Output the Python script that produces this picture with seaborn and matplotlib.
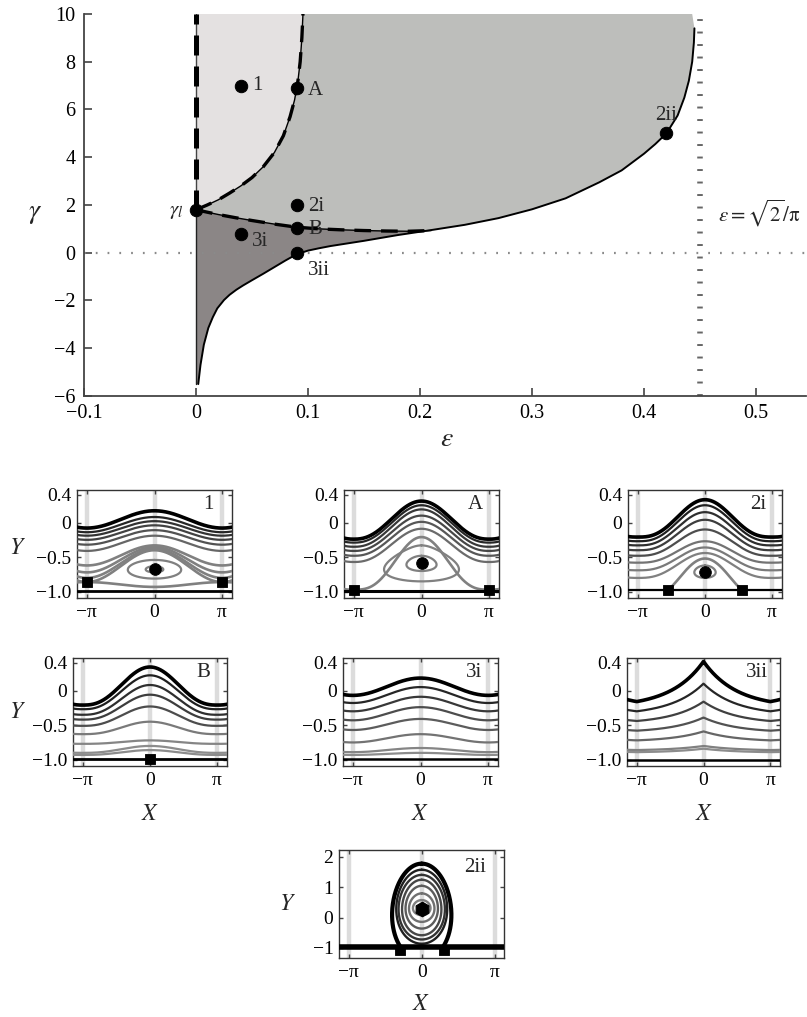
import numpy as np
import pandas as pd
import matplotlib
matplotlib.use("Agg")
import matplotlib.pyplot as plt
import seaborn as sns

sns.set_style("ticks")
plt.rcParams['font.family'] = ['Liberation Serif', 'DejaVu Serif']
plt.rcParams['mathtext.fontset'] = 'stix'

# ---------------- main phase diagram data ----------------
eps_A = [0.0, 0.005, 0.01, 0.02, 0.03, 0.04, 0.05, 0.06, 0.07, 0.078, 0.084, 0.088,
         0.091, 0.093, 0.0945, 0.0955]
gam_A = [1.8, 1.9, 2.0, 2.22, 2.5, 2.8, 3.15, 3.6, 4.2, 4.9, 5.7, 6.4,
         7.2, 8.0, 9.0, 10.0]
eps_B = [0.0, 0.01, 0.02, 0.035, 0.05, 0.07, 0.09, 0.11, 0.13, 0.15, 0.17, 0.19, 0.21]
gam_B = [1.8, 1.7, 1.6, 1.47, 1.35, 1.2, 1.07, 1.0, 0.96, 0.93, 0.91, 0.9, 0.93]
eps_low = [0.002, 0.004, 0.007, 0.011, 0.015, 0.019, 0.025, 0.03, 0.036, 0.042, 0.05,
           0.06, 0.07, 0.08, 0.09, 0.10, 0.11, 0.12, 0.135, 0.15, 0.18, 0.21, 0.24,
           0.27, 0.30, 0.33, 0.36, 0.38, 0.40, 0.41, 0.42, 0.43, 0.436, 0.440, 0.443,
           0.4445, 0.445]
gam_low = [-5.5, -4.7, -3.85, -3.15, -2.7, -2.33, -1.98, -1.76, -1.55, -1.37, -1.15,
           -0.88, -0.6, -0.32, -0.06, 0.09, 0.19, 0.28, 0.39, 0.5, 0.74, 0.95, 1.17,
           1.45, 1.82, 2.28, 2.95, 3.45, 4.15, 4.55, 5.0, 5.75, 6.5, 7.2, 8.0,
           8.8, 9.4]
pts_eps = [0.04, 0.09, 0.0, 0.09, 0.09, 0.04, 0.09, 0.42]
pts_gam = [7.0, 6.9, 1.8, 2.0, 1.05, 0.8, 0.0, 5.0]
pts_lab = ['1', 'A', r'$\gamma_l$', '2i', 'B', '3i', '3ii', '2ii']
eps_crit = np.sqrt(2) / np.pi
x_ticks = [-0.1, 0.0, 0.1, 0.2, 0.3, 0.4, 0.5]
x_ticklabels = ['\u22120.1', '0', '0.1', '0.2', '0.3', '0.4', '0.5']
y_ticks = [-6, -4, -2, 0, 2, 4, 6, 8, 10]
y_ticklabels = ['\u22126', '\u22124', '\u22122', '0', '2', '4', '6', '8', '10']

# ---------------- streamline panels data (Y at X=0, Y at X=+-pi) ----------------
p1_crest = [0.17, 0.08, 0.02, -0.04, -0.11, -0.19]
p1_trough = [-0.08, -0.14, -0.19, -0.25, -0.32, -0.41]
p1_sep_crest = [-0.33, -0.355, -0.38, -0.40, -0.93]
p1_sep_trough = [-0.62, -0.72, -0.80, -0.86, -0.86]
p1_orb_c, p1_orb_h, p1_orb_w = [-0.675, -0.675], [0.135, 0.045], [1.24, 0.41]

pA_crest = [0.31, 0.25, 0.19, 0.10, 0.01, -0.09]
pA_trough = [-0.24, -0.29, -0.35, -0.41, -0.48, -0.57]
pA_sep_crest, pA_sep_trough = [-0.21], [-0.97]
pA_orb_c, pA_orb_h, pA_orb_w = [-0.59, -0.59], [0.26, 0.11], [1.74, 0.70]

p2i_crest = [0.33, 0.25, 0.15, 0.04, -0.10, -0.27, -0.36, -0.44]
p2i_trough = [-0.21, -0.27, -0.33, -0.40, -0.48, -0.58, -0.69, -0.80]
p2i_arch_top, p2i_arch_foot_x, p2i_arch_foot_y = -0.52, 1.75, -0.97
p2i_orb_c, p2i_orb_h, p2i_orb_w = [-0.71], [0.09], [0.5]

pB_crest = [0.34, 0.22, 0.08, -0.06, -0.23, -0.45, -0.72, -0.80, -0.86]
pB_trough = [-0.21, -0.27, -0.35, -0.42, -0.51, -0.63, -0.77, -0.90, -0.93]

p3i_crest = [0.18, 0.05, -0.09, -0.24, -0.41, -0.63, -0.83, -0.90]
p3i_trough = [-0.07, -0.18, -0.30, -0.43, -0.57, -0.75, -0.89, -0.93]

p3ii_crest = [0.42, 0.10, -0.16, -0.39, -0.59, -0.80, -0.84]
p3ii_trough = [-0.16, -0.30, -0.44, -0.58, -0.72, -0.86, -0.89]

p2ii_ring_top = [1.78, 1.58, 1.41, 1.25, 1.05, 0.80, 0.58]
p2ii_ring_bot = [-1.40, -0.86, -0.72, -0.58, -0.36, -0.14, 0.08]
p2ii_ring_w = [1.28, 1.10, 1.00, 0.85, 0.70, 0.55, 0.38]

# ---------------- figure ----------------
W, H = 807, 1017
fig = plt.figure(figsize=(W / 100, H / 100), dpi=100)


def frac(x0, y0, x1, y1):
    return [x0 / W, 1 - y1 / H, (x1 - x0) / W, (y1 - y0) / H]


ax = fig.add_axes(frac(84, 14, 806, 396))
ax.set_xlim(-0.1, 0.5446)
ax.set_ylim(-6, 10)

light, mid, dark = '#e4e1e1', '#bdbebb', '#8b8686'
eA, gA = np.array(eps_A), np.array(gam_A)
eB, gB = np.array(eps_B), np.array(gam_B)
eL, gL = np.array(eps_low), np.array(gam_low)
left = eL <= 0.21
right = eL >= 0.21
ax.fill(np.r_[eA, 0.0], np.r_[gA, 10.0], color=light, lw=0, zorder=1)
ax.fill(np.r_[eA, 0.443, eL[right][::-1], eB[::-1]],
        np.r_[gA, 10.0, gL[right][::-1], gB[::-1]], color=mid, lw=0, zorder=1)
ax.fill(np.r_[eB, eL[left][::-1], 0.0], np.r_[gB, gL[left][::-1], -5.5],
        color=dark, lw=0, zorder=1)

ax.axhline(0, color='#8a8a8a', lw=1.6, ls=(0, (0.8, 4.5)), zorder=2)
ax.axvline(eps_crit, color='#666666', lw=4.0, ls=(0, (0.35, 1.9)), zorder=2,
           solid_capstyle='butt', dash_capstyle='butt')

df_low = pd.DataFrame({'eps': eps_low, 'gam': gam_low})
sns.lineplot(data=df_low, x='eps', y='gam', sort=False, estimator=None,
             color='black', lw=1.4, ax=ax, zorder=3)
for e, g in ((eps_A, gam_A), (eps_B, gam_B)):
    ax.plot(e, g, color='black', lw=1.0, zorder=3)
    ax.plot(e, g, color='black', lw=2.4, ls=(0, (5, 3)), zorder=3)
ax.plot([0, 0], [-5.5, 1.8], color='#222222', lw=1.0, zorder=3)
ax.plot([0, 0], [1.8, 10], color='#444444', lw=1.0, zorder=3)
ax.plot([0, 0], [1.8, 10], color='black', lw=3.6, ls=(0, (4, 2.2)), zorder=3)

df_pts = pd.DataFrame({'eps': pts_eps, 'gam': pts_gam})
sns.scatterplot(data=df_pts, x='eps', y='gam', color='black', s=80,
                edgecolor='black', ax=ax, zorder=5, legend=False)

lab_style = {
    '1': ((8, 0), 'left', 'center'),
    'A': ((8, -1.5), 'left', 'center'),
    '2i': ((8, -1), 'left', 'center'),
    'B': ((8, -1), 'left', 'center'),
    '3i': ((8, -6), 'left', 'center'),
    '3ii': ((8, -13), 'left', 'center'),
    r'$\gamma_l$': ((-9, -1.5), 'right', 'center'),
    '2ii': ((0, 6), 'center', 'bottom'),
}
for e, g, t in zip(pts_eps, pts_gam, pts_lab):
    off, ha, va = lab_style[t]
    ax.annotate(t, (e, g), xytext=off, textcoords='offset points', ha=ha, va=va,
                fontsize=15, zorder=6)

ax.text(0.466, 1.63, r'$\varepsilon = \sqrt{2}/\mathrm{\pi}$', fontsize=15, va='center')

ax.set_xticks(x_ticks)
ax.set_xticklabels(x_ticklabels)
ax.set_yticks(y_ticks)
ax.set_yticklabels(y_ticklabels)
ax.tick_params(direction='in', length=6, width=1.1, labelsize=14.5, pad=6,
               colors='#333333', labelcolor='black')
for s in ('top', 'right'):
    ax.spines[s].set_visible(False)
for s in ('left', 'bottom'):
    ax.spines[s].set_linewidth(1.3)
    ax.spines[s].set_color('#444444')
ax.set_xlabel('')
ax.set_ylabel('')
fig.text(35 / W, 1 - 213 / H, r'$\gamma$', fontsize=20, ha='center', va='center')
fig.text(447 / W, 1 - 440 / H, r'$\varepsilon$', fontsize=20, ha='center', va='center')

# ---------------- small panels ----------------
Xg = np.linspace(-3.8, 3.8, 800)


def wrap(X):
    return (X + np.pi) % (2 * np.pi) - np.pi


def profile(X, kind, p):
    Xw = wrap(X)
    if kind == 'cusp':
        return (np.exp(-p * np.abs(Xw)) - np.exp(-p * np.pi)) / (1 - np.exp(-p * np.pi))
    return ((1 + np.cos(Xw)) / 2) ** p


def waves(a, crest, trough, kind, p, grays, lw=1.6, first_lw=2.6):
    for i, (c, t) in enumerate(zip(crest, trough)):
        Y = t + (c - t) * profile(Xg, kind, p)
        a.plot(Xg, Y, color=str(grays[i]), lw=first_lw if i == 0 else lw, zorder=3)


def orbit(a, c, h, w, k, color, lw=1.6):
    th = np.linspace(0, 2 * np.pi, 400)
    Y = c + h * np.cos(th)
    X = np.sin(th) * (1 - k * (1 + np.cos(th)) / 2)
    X = X / np.abs(X).max() * w
    a.plot(X, Y, color=color, lw=lw, zorder=3)


def panel(rect, label, ylim=(-1.09, 0.47), yt=(0.4, 0, -0.5, -1.0),
          ytl=('0.4', '0', '\u22120.5', '\u22121.0'), xlim=(-3.6, 3.6), lab_xy=(2.5, 0.26)):
    a = fig.add_axes(rect)
    a.set_xlim(*xlim)
    a.set_ylim(*ylim)
    for xv in (-np.pi, 0, np.pi):
        a.axvline(xv, color='#dcdcdc', lw=3.2, zorder=0)
    a.set_xticks([-np.pi, 0, np.pi])
    a.set_xticklabels(['\u2212\u03c0', '0', '\u03c0'])
    a.set_yticks(list(yt))
    a.set_yticklabels(list(ytl))
    a.tick_params(direction='in', top=True, right=True, length=3, width=1.0,
                  labelsize=14, pad=4, colors='#444444', labelcolor='black')
    for s in a.spines.values():
        s.set_linewidth(1.0)
        s.set_color('#333333')
    a.text(lab_xy[0], lab_xy[1], label, fontsize=15, ha='center', va='center', zorder=6)
    return a


def marks(a, xs, ys, marker, s):
    sns.scatterplot(x=xs, y=ys, marker=marker, color='black', s=s, edgecolor='black',
                    ax=a, zorder=5, legend=False)


GRAY = '0.5'

# Panel 1
a1 = panel(frac(77, 490, 232, 598), '1')
waves(a1, p1_crest, p1_trough, 'cos', 1.0, grays=[0.0, 0.15, 0.2, 0.26, 0.32, 0.4])
waves(a1, p1_sep_crest, p1_sep_trough, 'cos', 1.0, grays=[0.5] * 5, lw=1.9, first_lw=1.9)
for c, h, w in zip(p1_orb_c, p1_orb_h, p1_orb_w):
    orbit(a1, c, h, w, 0.1, GRAY)
a1.axhline(-0.99, color='black', lw=2.0, zorder=3)
marks(a1, [-np.pi, np.pi], [-0.86, -0.86], 's', 60)
marks(a1, [0], [-0.675], 'o', 70)

# Panel A
aA = panel(frac(344, 490, 499, 598), 'A')
waves(aA, pA_crest, pA_trough, 'cos', 1.2,
      grays=[0.0, 0.15, 0.22, 0.28, 0.34, 0.42])
waves(aA, pA_sep_crest, pA_sep_trough, 'cos', 1.5, grays=[0.5], lw=1.9, first_lw=1.9)
orbit(aA, pA_orb_c[0], pA_orb_h[0], pA_orb_w[0], 0.6, GRAY)
orbit(aA, pA_orb_c[1], pA_orb_h[1], pA_orb_w[1], 0.3, GRAY)
aA.axhline(-0.99, color='black', lw=2.2, zorder=3)
marks(aA, [-np.pi, np.pi], [-0.97, -0.97], 's', 60)
marks(aA, [0], [-0.59], 'o', 70)

# Panel 2i
a2 = panel(frac(628, 490, 782, 598), '2i')
waves(a2, p2i_crest, p2i_trough, 'cos', 1.4,
      grays=[0.0, 0.12, 0.18, 0.24, 0.3, 0.45, 0.48, 0.5])
xa = np.linspace(-p2i_arch_foot_x, p2i_arch_foot_x, 200)
ya = p2i_arch_foot_y + (p2i_arch_top - p2i_arch_foot_y) * np.cos(np.pi * xa / (2 * p2i_arch_foot_x)) ** 1.3
a2.plot(xa, ya, color=GRAY, lw=1.9, zorder=3)
orbit(a2, p2i_orb_c[0], p2i_orb_h[0], p2i_orb_w[0], 0.2, GRAY)
a2.axhline(-0.98, color='black', lw=1.6, zorder=3)
marks(a2, [-p2i_arch_foot_x, p2i_arch_foot_x], [-0.97, -0.97], 's', 60)
marks(a2, [0], [-0.72], 'o', 70)

# Panel B
aB = panel(frac(73, 658, 227, 766), 'B')
waves(aB, pB_crest, pB_trough, 'cos', 1.3,
      grays=[0.0, 0.12, 0.18, 0.24, 0.3, 0.48, 0.52, 0.55, 0.55])
aB.axhline(-0.99, color='black', lw=2.0, zorder=3)
marks(aB, [0], [-0.99], 's', 60)

# Panel 3i
a3 = panel(frac(343, 658, 498, 766), '3i')
waves(a3, p3i_crest, p3i_trough, 'cos', 1.0,
      grays=[0.0, 0.15, 0.22, 0.3, 0.36, 0.45, 0.52, 0.55])
a3.axhline(-0.99, color='black', lw=1.8, zorder=3)

# Panel 3ii
a3b = panel(frac(627, 658, 780, 766), '3ii')
waves(a3b, p3ii_crest, p3ii_trough, 'cusp', 0.65,
      grays=[0.0, 0.15, 0.25, 0.32, 0.4, 0.5, 0.55])
a3b.axhline(-1.0, color='black', lw=1.8, zorder=3)

# Panel 2ii
a4 = panel(frac(339, 850, 504, 958), '2ii', ylim=(-1.33, 2.23), yt=(2, 1, 0, -1),
           ytl=('2', '1', '0', '\u22121'), xlim=(-3.57, 3.55), lab_xy=(2.3, 1.65))
ring_grays = ['0.0', '0.12', '0.2', '0.28', '0.36', '0.44', '0.5']
for i, (t, b, w) in enumerate(zip(p2ii_ring_top, p2ii_ring_bot, p2ii_ring_w)):
    th = np.linspace(0, 2 * np.pi, 400)
    c, h = (t + b) / 2, (t - b) / 2
    Y = c + h * np.cos(th)
    X = np.sin(th) * (1 - 0.12 * (1 + np.cos(th)) / 2)
    X = X / np.abs(X).max() * w
    m = Y >= -0.97
    X = np.where(m, X, np.nan)
    a4.plot(X, Y, color=ring_grays[i], lw=3.0 if i == 0 else 1.7, zorder=3)
a4.axhline(-0.97, color='black', lw=4.0, zorder=3)
marks(a4, [-0.95, 0.95], [-1.05, -1.05], 's', 60)
marks(a4, [0], [0.27], 'h', 110)

# axis labels of small panels
for (x, y) in ((17, 548), (17, 713), (287, 905)):
    fig.text(x / W, 1 - y / H, r'$Y$', fontsize=17, ha='center', va='center')
for (x, y) in ((150, 815), (420, 815), (704, 815), (421, 1005)):
    fig.text(x / W, 1 - y / H, r'$X$', fontsize=17, ha='center', va='center')

fig.savefig('out.png', dpi=100)
